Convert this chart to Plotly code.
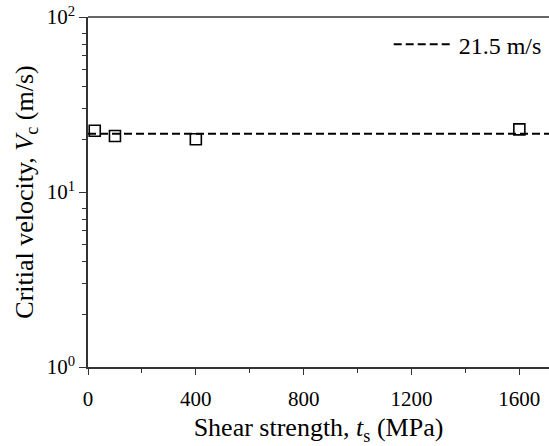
import plotly.graph_objects as go

shear = [25, 100, 400, 1600]
vel = [22.4, 20.9, 20.0, 22.8]
crit_v = 21.5
x_line = [0, 1710]
ytick_vals = [1, 10, 100]
ytick_text = ["10<sup>0</sup>", "10<sup>1</sup>", "10<sup>2</sup>"]
xtick_vals = [0, 400, 800, 1200, 1600]
yminor_vals = [m * d for d in (1, 10) for m in (2, 3, 4, 5, 6, 7, 8)]

FONT = "Liberation Serif"

fig = go.Figure()
fig.add_trace(go.Scatter(x=x_line, y=[crit_v, crit_v], mode="lines",
                         line=dict(color="black", dash="8px,4px", width=2),
                         name="21.5 m/s", showlegend=True))
fig.add_trace(go.Scatter(x=shear, y=vel, mode="markers",
                         marker=dict(symbol="square-open", size=11,
                                     color="black", line=dict(width=1.6)),
                         showlegend=False))

fig.update_layout(
    width=549, height=446,
    margin=dict(l=87.5, r=0, t=17, b=79),
    paper_bgcolor="white", plot_bgcolor="white",
    font=dict(family=FONT, size=21, color="black"),
    legend=dict(x=0.995, y=0.985, xanchor="right", yanchor="top",
                bgcolor="rgba(0,0,0,0)", font=dict(family=FONT, size=24), itemwidth=60),
    xaxis=dict(range=[0, 1710], tickvals=xtick_vals,
               showline=True, linecolor="#333", linewidth=1.5, mirror=False,
               ticks="outside", ticklen=6, tickwidth=1.2, tickcolor="#333",
               ticklabelstandoff=6, tickfont=dict(family=FONT, size=21),
               showgrid=False, zeroline=False,
               minor=dict(ticks="outside", ticklen=4, dtick=200, tickcolor="#333", tickwidth=1.2, showgrid=False),
               title=dict(text="Shear strength, <i>t</i><sub>s</sub> (MPa)", font=dict(family=FONT, size=26), standoff=8)),
    yaxis=dict(type="log", range=[0, 2], tickvals=ytick_vals, ticktext=ytick_text,
               showline=True, linecolor="#333", linewidth=1.5,
               ticks="outside", ticklen=7, tickwidth=1.2, tickcolor="#333",
               tickfont=dict(family=FONT, size=21),
               showgrid=False, zeroline=False,
               minor=dict(ticks="outside", ticklen=4, tickvals=yminor_vals, tickcolor="#333", tickwidth=1.2, showgrid=False),
               title=dict(text="Critial velocity, <i>V</i><sub>c</sub> (m/s)", font=dict(family=FONT, size=26), standoff=6)),
)
# top frame line
fig.add_shape(type="line", xref="paper", yref="paper", x0=0, x1=1, y0=1, y1=1,
              line=dict(color="#333", width=1.5))

fig.write_html("out.html")
